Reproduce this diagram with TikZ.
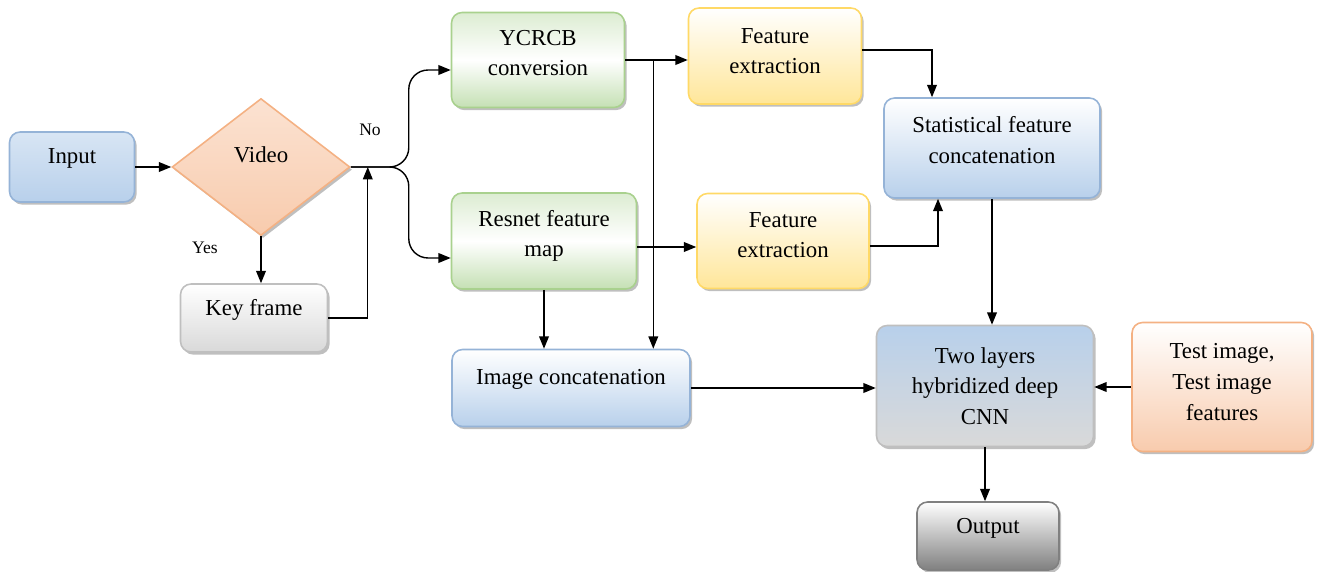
\documentclass[tikz,border=0pt]{standalone}
\usepackage{fontspec}
\setmainfont{Liberation Serif}
\newfontfamily\boxfont{Liberation Serif}
\usepackage{tikz}
\usetikzlibrary{arrows.meta,calc,shapes.geometric,shadows}
\definecolor{bluebd}{RGB}{149,179,215}
\definecolor{bluefl}{RGB}{184,208,235}
\definecolor{greenbd}{RGB}{169,209,142}
\definecolor{greenfl}{RGB}{197,224,180}
\definecolor{yellowbd}{RGB}{255,217,102}
\definecolor{yellowfl}{RGB}{255,230,153}
\definecolor{orangebd}{RGB}{244,177,131}
\definecolor{orangefl}{RGB}{248,203,173}
\definecolor{graybd}{RGB}{191,191,191}
\definecolor{grayfl}{RGB}{217,217,217}
\definecolor{darkfl}{RGB}{128,128,128}

\begin{document}
\begin{tikzpicture}[x=0.02cm, y=-0.02cm,
  box/.style={draw, rounded corners=6pt, line width=0.9pt, align=center,
              font=\boxfont\fontsize{13}{17.5}\selectfont, inner sep=2pt,
              drop shadow={shadow xshift=1.2pt, shadow yshift=-1.5pt,
                           opacity=0.25, fill=black}},
  bluebox/.style={box, draw=bluebd, top color=white, bottom color=bluefl},
  greenbox/.style={box, draw=greenbd, top color=greenfl!60,
                   bottom color=greenfl, middle color=white},
  yellowbox/.style={box, draw=yellowbd, top color=white, bottom color=yellowfl},
  orangebox/.style={box, draw=orangebd, top color=white, bottom color=orangefl},
  graybox/.style={box, draw=graybd, top color=white, bottom color=grayfl},
  lift/.style={text depth=#1},
  decision/.style={box, diamond, rounded corners=0pt, draw=orangebd,
                   top color=orangefl!55, bottom color=orangefl, inner sep=0pt},
  flow/.style={-{Triangle[length=7pt,width=5.5pt]}, line width=0.8pt},
  tag/.style={font=\boxfont\fontsize{10}{12}\selectfont}
]
\useasboundingbox (0,0) rectangle (1317,571);

% boxes
\node[bluebox, top color=bluefl!55, lift=12pt, minimum width=2.5cm, minimum height=1.4cm] (input) at (72,167) {Input};
\node[decision, lift=14pt, minimum width=3.56cm, minimum height=2.74cm] (video) at (261,167) {Video};
\node[graybox, lift=12pt, minimum width=2.94cm, minimum height=1.36cm] (keyframe) at (254,318) {Key frame};
\node[greenbox, lift=8pt, minimum width=3.46cm, minimum height=1.9cm] (ycrcb) at (538,60) {YCRCB\\conversion};
\node[greenbox, lift=8.6pt, minimum width=3.7cm, minimum height=1.92cm] (resnet) at (544,241) {Resnet feature\\map};
\node[yellowbox, lift=5.7pt, minimum width=3.46cm, minimum height=1.92cm] (featA) at (775,56) {Feature\\extraction};
\node[yellowbox, lift=6.9pt, minimum width=3.44cm, minimum height=1.9cm] (featB) at (783,241) {Feature\\extraction};
\node[bluebox, lift=9pt, minimum width=4.32cm, minimum height=2cm] (stat) at (992,148) {Statistical feature\\concatenation};
\node[bluebox, lift=13pt, minimum width=4.76cm, minimum height=1.54cm] (imgcat) at (571,388) {Image concatenation};
\node[box, draw=graybd, top color=bluefl, bottom color=grayfl,
      minimum width=4.34cm, minimum height=2.42cm] (cnn) at (985,386) {Two layers\\hybridized deep\\CNN};
\node[orangebox, lift=5.6pt, minimum width=3.6cm, minimum height=2.58cm] (test) at (1222,387) {Test image,\\Test image\\features};
\node[box, lift=12pt, draw=darkfl, top color=white, bottom color=darkfl,
      minimum width=2.84cm, minimum height=1.36cm] (output) at (988,536) {Output};

\node[tag] (no) at (370,130) {No};
\node[tag] (yes) at (205,248) {Yes};

% connectors
\coordinate (fork) at ($(video.east)+(58,0)$);
\coordinate (join) at ($(video.east)+(17,0)$);
\coordinate (split) at ($(ycrcb.east)+(28,0)$);
\coordinate (resout) at ($(resnet.east)+(0,6)$);
\coordinate (featAout) at ($(featA.east)+(0,-6)$);
\coordinate (featBout) at ($(featB.east)+(0,5)$);
\coordinate (statin) at ($(stat.north)+(-60,0)$);
\coordinate (statlow) at ($(stat.south)+(-54,0)$);

\draw[flow] (input) -- (video);
\draw[flow] (video.south) -- (video.south |- keyframe.north);
\draw[flow] (keyframe.east) -| (join);
\draw[flow, rounded corners=11pt] (video.east) -- (fork) |- ($(ycrcb.west)+(0,10)$);
\draw[flow, rounded corners=11pt] (video.east) -- (fork) |- ($(resnet.west)+(0,17)$);
\draw[flow] (ycrcb.east) -- (ycrcb.east -| featA.west);
\draw[flow] (split) -- (split |- imgcat.north);
\draw[flow] (resout) -- (resout -| featB.west);
\draw[flow] (resnet.south) -- (resnet.south |- imgcat.north);
\draw[flow] (featAout) -| (statin);
\draw[flow] (featBout) -| (statlow);
\draw[flow] (stat.south) -- (stat.south |- cnn.north);
\draw[flow] (imgcat.east) -- (imgcat.east -| cnn.west);
\draw[flow] (test.west) -- (test.west -| cnn.east);
\draw[flow] (cnn.south) -- (cnn.south |- output.north);
\end{tikzpicture}
\end{document}
